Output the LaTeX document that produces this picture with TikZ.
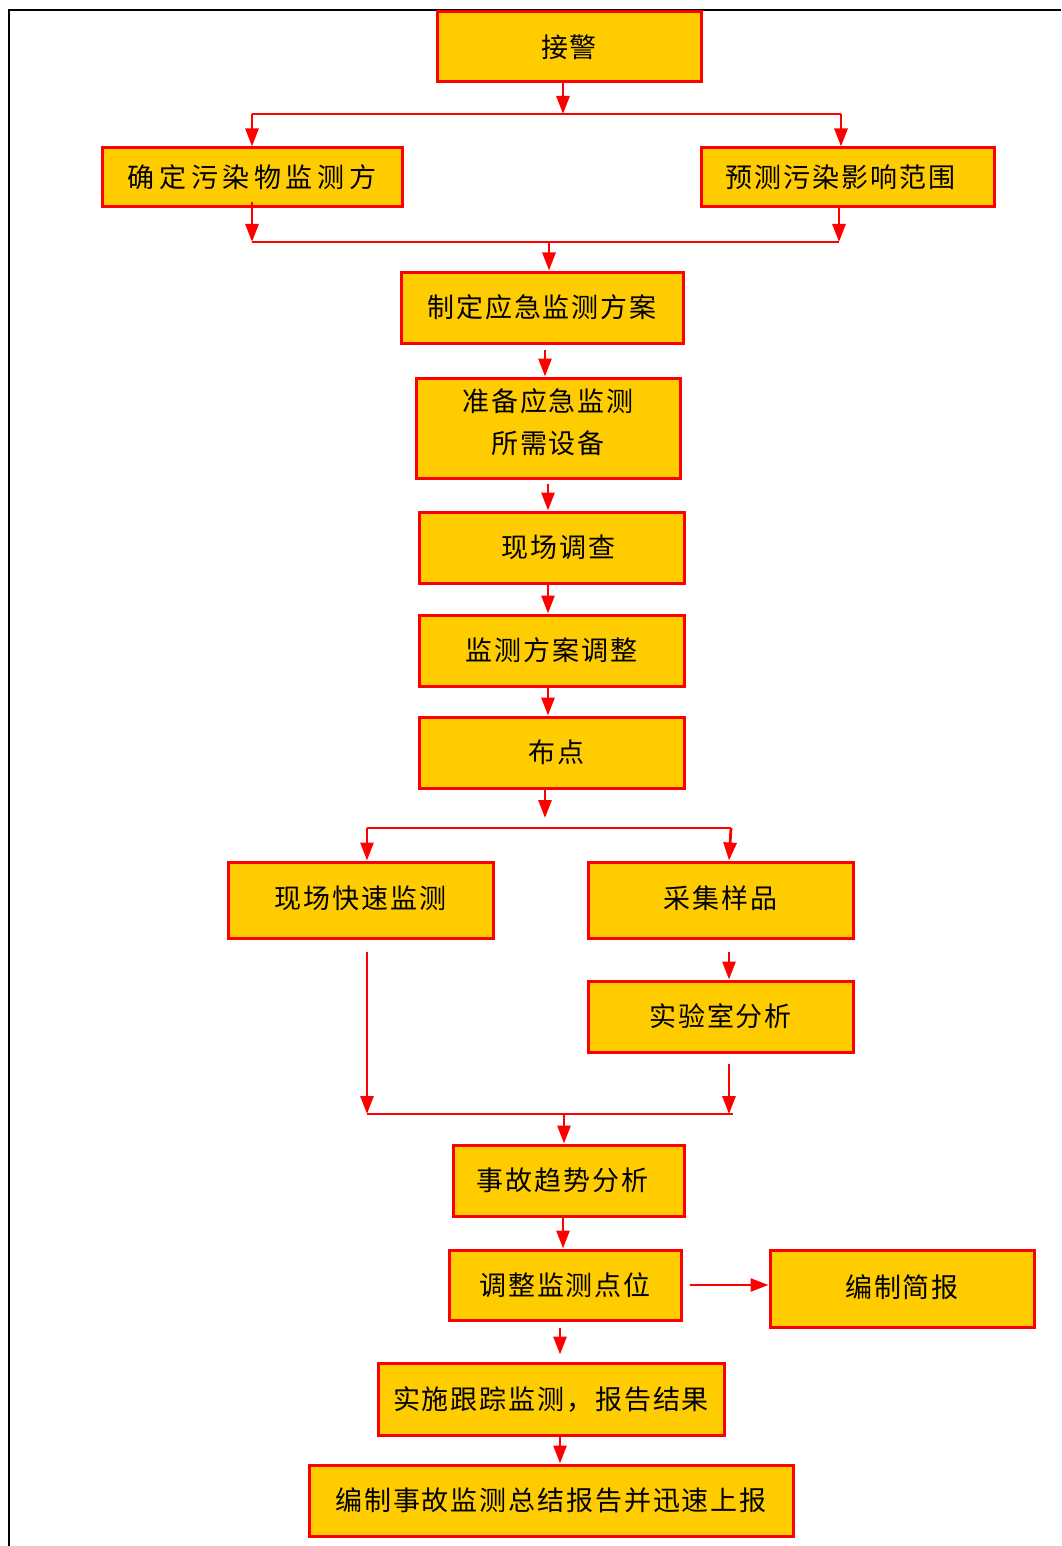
\documentclass[tikz,border=0pt]{standalone}
\usepackage{fontspec}
\newfontfamily\cjk[LetterSpace=7]{Noto Sans CJK SC}
\newfontfamily\cjkwide[LetterSpace=17]{Noto Sans CJK SC}
\usetikzlibrary{arrows.meta}
\definecolor{boxfill}{HTML}{FFCC00}
\definecolor{boxline}{HTML}{FF0000}
\tikzset{
  box/.style={draw=boxline, fill=boxfill, line width=3pt, rectangle, inner sep=0pt,
    font=\fontsize{27}{42}\selectfont\cjk, align=center},
  arr/.style={draw=boxline, line width=2.8pt, -{Triangle[length=18pt,width=13pt]}},
  ln/.style={draw=boxline, line width=2.8pt},
}
\begin{document}
\begin{tikzpicture}[x=1pt,y=-1pt]
\useasboundingbox (0,0) rectangle (1061,1546);
\fill[white] (0,0) rectangle (1061,1546);
% frame
\draw[line width=1.5pt, black] (1061,10) -- (9,10) -- (9,1546);

% nodes
\node[box, minimum width=264pt, minimum height=70pt] (n1) at (569,47) {接警};
\node[box, minimum width=300pt, minimum height=59pt, font=\fontsize{27}{42}\selectfont\cjkwide] (n2) at (252,177.5) {\raisebox{-3pt}{确定污染物监测方}};
\node[box, minimum width=293pt, minimum height=59pt] (n3) at (847.5,177.5) {\hspace*{-14pt}\raisebox{-3pt}{预测污染影响范围}};
\node[box, minimum width=282pt, minimum height=71pt] (n4) at (542,307.5) {\raisebox{3pt}{制定应急监测方案}};
\node[box, minimum width=264pt, minimum height=100pt] (n5) at (548,428) {准备应急监测\\所需设备\\[-28pt]\mbox{}};
\node[box, minimum width=265pt, minimum height=71pt] (n6) at (551.5,547.5) {\hspace*{14pt}现场调查};
\node[box, minimum width=265pt, minimum height=71pt] (n7) at (551.5,650.5) {监测方案调整};
\node[box, minimum width=265pt, minimum height=71pt] (n8) at (551.5,752.5) {\hspace*{10pt}\raisebox{3pt}{布点}};
\node[box, minimum width=265pt, minimum height=76pt] (n9) at (360.5,900) {\raisebox{5pt}{现场快速监测}};
\node[box, minimum width=265pt, minimum height=76pt] (n10) at (720.5,900) {\raisebox{5pt}{采集样品}};
\node[box, minimum width=265pt, minimum height=71pt] (n11) at (720.5,1016.5) {实验室分析};
\node[box, minimum width=231pt, minimum height=71pt] (n12) at (568.5,1180.5) {\hspace*{-12pt}\raisebox{2pt}{事故趋势分析}};
\node[box, minimum width=232pt, minimum height=70pt] (n13) at (565,1285) {调整监测点位};
\node[box, minimum width=264pt, minimum height=77pt] (n14) at (902,1288.5) {\raisebox{5pt}{编制简报}};
\node[box, minimum width=346pt, minimum height=72pt] (n15) at (551,1399) {实施跟踪监测，报告结果};
\node[box, minimum width=484pt, minimum height=71pt] (n16) at (551,1500.5) {编制事故监测总结报告并迅速上报};

% junction coordinates
\coordinate (j1) at (563,114);
\coordinate (j1l) at (252,114);
\coordinate (j1r) at (841,114);
\coordinate (j2l) at (252,242);
\coordinate (j2r) at (839,242);
\coordinate (j2) at (549,242);
\coordinate (j3) at (545,818);
\coordinate (j3l) at (367,828);
\coordinate (j3r) at (731,828);
\coordinate (j4l) at (367,1114);
\coordinate (j4r) at (729,1114);
\coordinate (j4) at (564,1114);

% connectors
\draw[arr] (n1.south -| j1) -- (j1);
\draw[ln] (j1l) -- (j1r);
\draw[arr] (j1l) -- (n2.north -| j1l);
\draw[arr] (j1r) -- (n3.north -| j1r);
\draw[arr, shorten <=-6pt] (n2.south -| j2l) -- (j2l);
\draw[arr] (n3.south -| j2r) -- (j2r);
\draw[ln] (j2l) -- (j2r);
\draw[arr] (j2) -- (n4.north -| j2);
\draw[arr, shorten <=5pt] (n4.south -| 545,0) -- (n5.north -| 545,0);
\draw[arr, shorten <=4pt] (n5.south -| 548,0) -- (n6.north -| 548,0);
\draw[arr] (n6.south -| 548,0) -- (n7.north -| 548,0);
\draw[arr] (n7.south -| 548,0) -- (n8.north -| 548,0);
\draw[arr] (n8.south -| j3) -- (j3);
\draw[ln] (j3l) -- (j3r);
\draw[arr] (j3l) -- (n9.north -| j3l);
\draw[arr] (j3r) -- (n10.north -| 729,0);
\draw[arr, shorten <=12pt] (n9.south -| j4l) -- (j4l);
\draw[arr, shorten <=12pt] (n10.south -| j4r) -- (n11.north -| j4r);
\draw[arr, shorten <=10pt] (n11.south -| j4r) -- (j4r);
\draw[ln] (j4l) -- (733,1114);
\draw[arr] (j4) -- (n12.north -| j4);
\draw[arr] (n12.south -| 563,0) -- (n13.north -| 563,0);
\draw[arr, shorten <=7pt] (n13.east) -- (n14.west |- n13.east);
\draw[arr, shorten <=6pt, shorten >=7pt] (n13.south -| 560,0) -- (n15.north -| 560,0);
\draw[arr] (n15.south -| 560,0) -- (n16.north -| 560,0);
\end{tikzpicture}
\end{document}
